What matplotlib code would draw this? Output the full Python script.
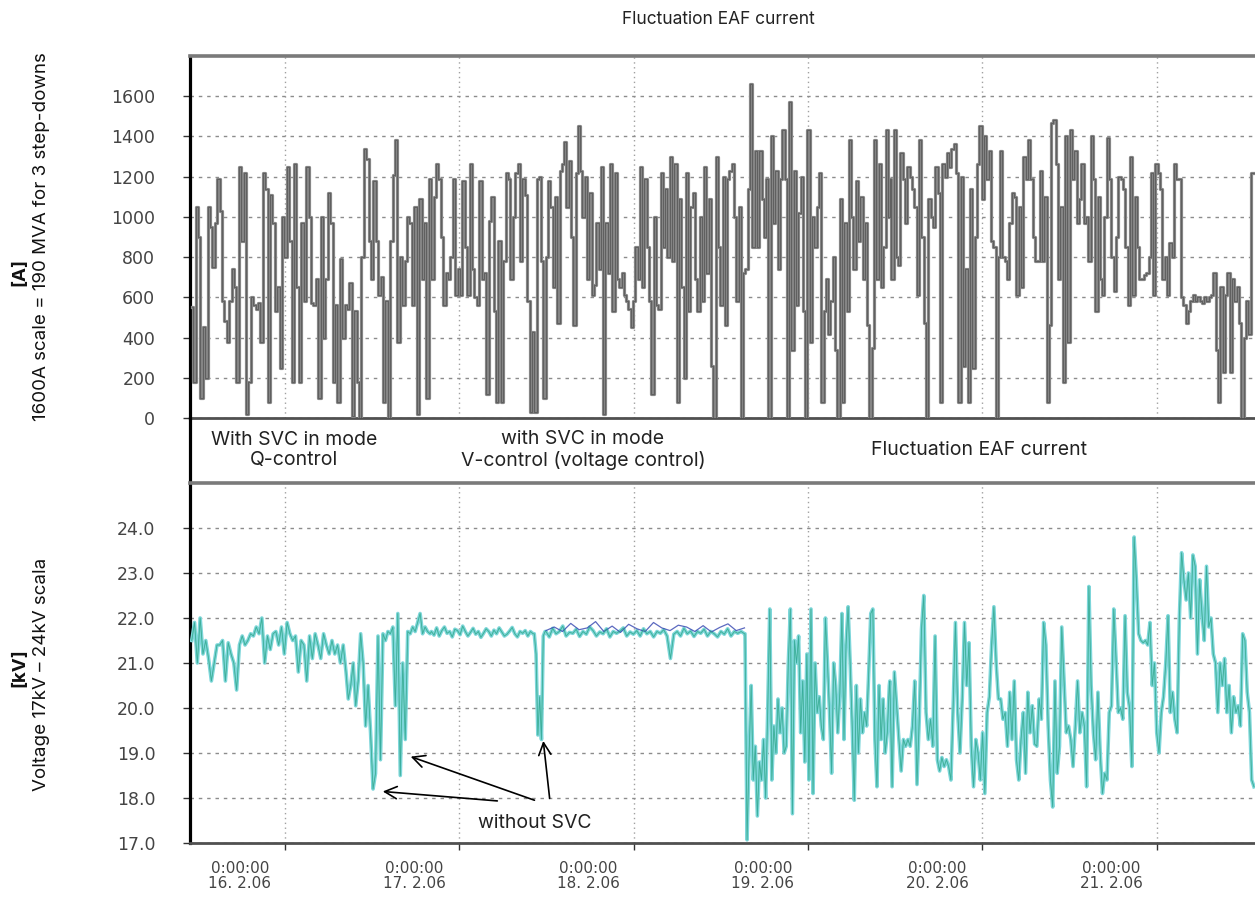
import numpy as np
import matplotlib
matplotlib.use("Agg")
import matplotlib.pyplot as plt
from matplotlib.transforms import ScaledTranslation

# ---------------- data ----------------
# time axis in days, 0 = 16.2.06 0:00:00
day_ticks = [0, 1, 2, 3, 4, 5]
day_labels = ["0:00:00\n16. 2.06", "0:00:00\n17. 2.06", "0:00:00\n18. 2.06",
              "0:00:00\n19. 2.06", "0:00:00\n20. 2.06", "0:00:00\n21. 2.06"]

current_ticks = [0, 200, 400, 600, 800, 1000, 1200, 1400, 1600]
voltage_ticks = [17.0, 18.0, 19.0, 20.0, 21.0, 22.0, 23.0, 24.0]

# EAF current [A], three consecutive recording stretches (start day, end day)
current_spans = [(-0.534, 1.452), (1.463, 3.465), (3.471, 5.559)]
current_a = [550, 180, 1050, 900, 100, 450, 200, 1050, 950, 750, 970, 1190, 1030, 580, 480, 380,
             580, 740, 650, 180, 1250, 880, 1220, 20, 180, 600, 560, 540, 570, 380, 1220, 1140,
             80, 1110, 970, 530, 650, 250, 1000, 800, 1250, 880, 180, 1265, 650, 180, 970, 580,
             1250, 1000, 570, 560, 690, 100, 1000, 400, 690, 1120, 970, 180, 560, 80, 790, 400,
             560, 540, 670, 10, 530, 180, 0, 800, 1340, 1290, 880, 690, 1180, 880, 610, 700, 80,
             580, 0, 880, 1210, 1380, 380, 800, 560, 780, 1000, 970, 560, 1050, 20, 1090, 690,
             970, 100, 1190, 690, 1100, 1265, 1190, 900, 560, 720, 690, 800, 1190, 610, 740, 610,
             1180, 850, 610, 1265, 740, 600, 560, 1180, 690, 720, 120, 980, 1100, 530, 80, 880,
             80, 780, 1220, 1190, 690, 1000, 1220, 1265, 780, 1190, 1110, 580, 30, 430, 30, 1190]
current_b = [1200, 780, 100, 800, 1180, 1050, 650, 1100, 470, 1230, 1265, 1370, 1050, 1280, 900,
             460, 1220, 1450, 1230, 1000, 1200, 690, 1120, 610, 660, 970, 740, 1250, 20, 970, 720,
             1265, 530, 1220, 690, 650, 720, 610, 580, 540, 450, 580, 850, 690, 1250, 650, 1190,
             850, 580, 120, 1000, 560, 540, 1220, 850, 1140, 800, 1300, 780, 1265, 80, 1090, 650,
             200, 1220, 530, 1050, 1120, 690, 530, 1000, 580, 1250, 720, 1090, 260, 0, 1300, 850,
             560, 1200, 460, 1190, 1230, 1265, 1000, 580, 1050, 0, 720, 740, 1140, 1660, 850,
             1330, 850, 1330, 1090, 900, 1190, 0, 1400, 970, 1230, 740, 1190, 1430, 1190, 0, 1570,
             340, 1230, 560, 1020, 1200, 530, 0, 1430, 380, 1000, 850, 1050, 1220, 80, 530, 690,
             420, 580, 800, 340, 0, 1090, 80, 970, 530, 1380, 1000, 740, 1180, 880, 1100, 690, 970,
             460, 0, 350, 1380, 690, 1265, 650, 850, 1430, 1000]
current_c = [1190, 690, 1430, 800, 760, 1320, 1190, 970, 1250, 1200, 1140, 1050, 610, 1380, 900,
             470, 0, 1090, 1000, 950, 1250, 1120, 80, 1265, 1200, 1320, 1250, 1340, 1360, 1220, 80,
             1200, 260, 740, 80, 1140, 250, 900, 1265, 1450, 1090, 1400, 1190, 1330, 880, 850, 0,
             800, 1330, 800, 780, 690, 970, 1120, 1100, 610, 1050, 650, 1300, 1190, 1380, 1190, 900,
             780, 780, 1230, 780, 1100, 80, 460, 1465, 1480, 1265, 690, 1050, 180, 1400, 380, 1430,
             1190, 1330, 970, 1090, 1265, 970, 1000, 780, 1400, 1190, 530, 1100, 690, 610, 1000,
             1390, 1190, 800, 630, 900, 1200, 1190, 1140, 850, 560, 1300, 610, 1100, 850, 690, 690,
             710, 720, 800, 1220, 610, 1265, 1220, 1140, 690, 800, 610, 870, 800, 1265, 1190, 1190,
             600, 560, 470, 530, 580, 610, 580, 600, 580, 570, 600, 580, 600, 610, 720, 340, 80,
             650, 230, 610, 720, 230, 690, 580, 650, 470, 0, 400, 580, 420, 1220, 1220]

# Voltage 17-24 kV, recording stretches (start day, end day)
voltage_spans = [(-0.535, 0.350), (0.363, 0.832), (0.840, 1.423), (1.430, 1.492),
                 (1.497, 2.636), (2.639, 3.467), (3.470, 5.559)]
voltage_1 = [21.5, 21.9, 21.0, 22.0, 21.2, 21.5, 21.1, 20.6, 21.0, 21.4, 21.4, 21.5, 20.6, 21.45,
             21.2, 21.0, 20.4, 21.4, 21.6, 21.4, 21.5, 21.65, 21.6, 21.8, 21.65, 22.0, 21.0, 21.6,
             21.3, 21.65, 21.7, 21.4, 21.8, 21.2, 21.9, 21.65, 21.5, 21.6, 20.8, 21.5, 21.4, 20.6,
             21.6, 21.1, 21.65, 21.4, 21.1, 21.65, 21.4, 21.2, 21.5, 21.2, 21.4, 21.0, 21.4, 20.8]
voltage_2 = [20.2, 20.5, 21.0, 20.05, 20.6, 21.65, 21.0, 19.6, 20.5, 19.45, 18.2, 18.55, 21.6,
             18.85, 21.65, 21.5, 21.7, 21.65, 21.8, 20.05, 22.1, 18.5, 21.0, 19.3, 21.7, 21.65,
             21.8, 21.7, 21.9, 22.1, 21.65, 21.8, 21.7, 21.65]
voltage_3 = [21.7, 21.62, 21.78, 21.6, 21.72, 21.8, 21.66, 21.7, 21.58, 21.75, 21.72, 21.63, 21.82,
             21.7, 21.6, 21.68, 21.77, 21.64, 21.7, 21.57, 21.66, 21.76, 21.7, 21.6, 21.73, 21.65,
             21.78, 21.69, 21.6, 21.64, 21.71, 21.79, 21.65, 21.58, 21.7, 21.66, 21.72, 21.6, 21.7, 21.65]
voltage_4 = [21.65, 21.2, 19.4, 20.25, 19.3, 21.6, 21.7]
voltage_5 = [21.7, 21.58, 21.77, 21.65, 21.7, 21.82, 21.6, 21.68, 21.66, 21.75, 21.59, 21.7, 21.64,
             21.8, 21.72, 21.6, 21.69, 21.65, 21.76, 21.58, 21.7, 21.66, 21.71, 21.78, 21.6, 21.69,
             21.64, 21.72, 21.6, 21.76, 21.65, 21.7, 21.58, 21.7, 21.66, 21.74, 21.6, 21.1, 21.64,
             21.7, 21.6, 21.77, 21.65, 21.71, 21.59, 21.7, 21.66, 21.75, 21.6, 21.7, 21.65, 21.58,
             21.7, 21.64, 21.76, 21.6, 21.7, 21.66, 21.7, 21.65]
voltage_6 = [21.65, 17.07, 19.0, 20.5, 18.4, 19.15, 17.6, 18.8, 18.4, 19.3, 18.0, 19.9, 22.2,
             18.4, 19.6, 19.0, 20.2, 19.45, 20.0, 19.0, 19.15, 21.0, 22.2, 17.65, 21.5, 21.0, 21.6,
             19.45, 20.6, 18.8, 21.2, 18.4, 22.2, 18.1, 21.0, 19.9, 20.25, 19.6, 19.3, 22.0, 21.0,
             19.9, 18.55, 21.0, 20.5, 19.45, 20.35, 22.1, 19.3, 21.4, 22.25, 21.0, 19.6, 17.95,
             20.5, 19.0, 20.2, 19.45, 19.9, 19.6, 20.8, 22.1, 22.2, 19.3, 18.25, 20.5, 19.3, 20.2,
             19.0, 19.45, 20.5]
voltage_7 = [20.6, 18.25, 20.8, 20.05, 19.3, 18.6, 19.3, 19.15, 19.3, 19.15, 19.6, 20.6, 18.3,
             19.75, 21.75, 22.5, 19.9, 19.3, 19.75, 19.15, 21.6, 18.85, 18.6, 18.9, 18.7, 18.85,
             18.7, 18.4, 20.05, 21.9, 19.9, 19.0, 20.2, 21.9, 20.5, 21.45, 19.15, 18.25, 19.3, 19.0,
             18.4, 19.45, 18.1, 19.9, 20.25, 21.4, 22.25, 21.0, 20.2, 20.2, 19.75, 19.9, 19.15,
             20.35, 19.3, 20.6, 18.85, 18.4, 19.3, 19.9, 18.55, 20.35, 19.45, 20.05, 19.2, 19.15,
             20.2, 19.75, 21.9, 21.4, 19.6, 18.4, 17.8, 20.6, 18.55, 19.15, 21.8, 20.6, 19.45, 19.6,
             19.3, 18.7, 19.6, 20.6, 19.45, 19.9, 19.6, 18.25, 22.7, 20.5, 19.45, 18.85, 20.35,
             19.0, 18.1, 18.55, 18.4, 19.9, 20.05, 22.2, 21.1, 19.9, 20.0, 19.75, 22.05, 20.35, 20.0,
             18.7, 23.8, 22.85, 21.65, 21.5, 21.45, 21.5, 21.4, 21.9, 20.5, 21.0, 19.45, 19.0, 19.9,
             20.25, 21.0, 22.05, 19.9, 20.35, 19.75, 19.45, 22.0, 23.45, 22.85, 22.4, 23.0, 22.0,
             23.4, 23.15, 21.2, 22.85, 22.1, 21.5, 23.15, 21.8, 22.0, 21.2, 21.0, 19.9, 21.0, 20.5,
             21.1, 19.9, 20.5, 19.45, 20.25, 19.9, 20.05, 19.6, 21.65, 21.5, 20.35, 19.9, 18.4, 18.25]
# second phase (blue) visible above the flat V-control stretch
voltage_blue_span = (1.497, 2.636)
voltage_blue = [21.72, 21.8, 21.7, 21.88, 21.74, 21.78, 21.92, 21.7, 21.82, 21.68, 21.86, 21.76,
                21.7, 21.9, 21.78, 21.72, 21.84, 21.8, 21.7, 21.83, 21.69, 21.79, 21.87, 21.72, 21.78]

mode_texts = ["With SVC in mode\nQ-control", "with SVC in mode\nV-control (voltage control)",
              "Fluctuation EAF current"]


def build(spans, series):
    ts, vs = [], []
    for (a, b), vals in zip(spans, series):
        ts.append(np.linspace(a, b, len(vals)))
        vs.append(np.asarray(vals, dtype=float))
    return np.concatenate(ts), np.concatenate(vs)


t_cur, i_cur = build(current_spans, [current_a, current_b, current_c])
t_vol, u_vol = build(voltage_spans, [voltage_1, voltage_2, voltage_3, voltage_4,
                                     voltage_5, voltage_6, voltage_7])
t_blue = np.linspace(voltage_blue_span[0], voltage_blue_span[1], len(voltage_blue))

# ---------------- figure ----------------
W, H = 1255, 898
fig = plt.figure(figsize=(W / 100, H / 100), dpi=100)
fig.patch.set_facecolor("white")


def fx(px):
    return px / W


def fy(py):
    return 1 - py / H


x_left, x_right = -0.545, 5.582
ax_w = (1258 - 190) / W
ax1 = fig.add_axes([fx(190), fy(418), ax_w, (418 - 56) / H])
band = fig.add_axes([fx(190), fy(483), ax_w, (483 - 418) / H])
ax2 = fig.add_axes([fx(190), fy(843), ax_w, (843 - 483) / H])

ytick_font = dict(family="DejaVu Sans", size=12.5, color="#444444")
xtick_font = dict(family="DejaVu Sans", size=11, color="#444444")
txt_font = "Inter"

for ax in (ax1, ax2):
    ax.set_xlim(x_left, x_right)
    ax.set_xticks(day_ticks)
    ax.spines["left"].set_color("black")
    ax.spines["left"].set_linewidth(2.3)
    ax.spines["top"].set_color("#7a7a7a")
    ax.spines["top"].set_linewidth(2.6)
    ax.spines["bottom"].set_color("#505050")
    ax.spines["bottom"].set_linewidth(2.0)
    ax.spines["right"].set_visible(False)
    ax.grid(axis="y", color="#8c8c8c", linestyle=(0, (2.5, 3.5)), linewidth=1.0)
    ax.grid(axis="x", color="#a0a0a0", linestyle=(0, (1, 2.5)), linewidth=1.0)
    ax.set_axisbelow(True)
    ax.tick_params(axis="y", direction="out", length=5, width=1.0, color="#333333",
                   pad=20)

# top: current
ax1.set_ylim(0, 1800)
ax1.set_yticks(current_ticks)
ax1.set_yticklabels([str(v) for v in current_ticks], **ytick_font)
ax1.tick_params(axis="x", length=0, labelbottom=False)
ax1.plot(t_cur, i_cur, color="#858585", lw=2.3, drawstyle="steps-mid", zorder=3)
ax1.plot(t_cur, i_cur, color="#111111", lw=0.5, drawstyle="steps-mid", zorder=4, alpha=0.45)

# bottom: voltage
ax2.set_ylim(17.0, 25.0)
ax2.set_yticks(voltage_ticks)
ax2.set_yticklabels([f"{v:.1f}" for v in voltage_ticks], **ytick_font)
ax2.set_xticklabels(day_labels, **xtick_font, linespacing=1.0)
ax2.tick_params(axis="x", direction="out", length=5, width=1.0, color="#333333", pad=8)
offset = ScaledTranslation(-45 / 100, 0, fig.dpi_scale_trans)
for lab in ax2.get_xticklabels():
    lab.set_transform(lab.get_transform() + offset)
ax2.plot(t_vol, u_vol, color="#7dd6da", lw=2.6, zorder=3)
ax2.plot(t_blue, voltage_blue, color="#3344b0", lw=0.9, zorder=4, alpha=0.8)
ax2.plot(t_vol, u_vol, color="#3aae55", lw=0.7, zorder=5, alpha=0.45)
ax2.plot(t_vol, u_vol, color="#1a9aa0", lw=0.5, zorder=6, alpha=0.55)

# middle band
band.set_xlim(x_left, x_right)
band.set_ylim(0, 1)
band.set_xticks([])
band.set_yticks([])
for s in ("top", "bottom", "right"):
    band.spines[s].set_visible(False)
band.spines["left"].set_color("black")
band.spines["left"].set_linewidth(2.3)
band.patch.set_alpha(0)

fig.text(fx(294), fy(450), mode_texts[0], ha="center", va="center", family=txt_font,
         fontsize=14, color="#222222", linespacing=1.2)
fig.text(fx(583), fy(450), mode_texts[1], ha="center", va="center", family=txt_font,
         fontsize=14, color="#222222", linespacing=1.2)
fig.text(fx(979), fy(450), mode_texts[2], ha="center", va="center", family=txt_font,
         fontsize=14, color="#222222")

# title
fig.text(fx(718), fy(20), "Fluctuation EAF current", ha="center", va="center",
         family=txt_font, fontsize=12.5, color="#222222")

# y labels
fig.text(fx(20), fy(272), "[A]", rotation=90, ha="center", va="center", family=txt_font,
         fontsize=13.5, weight="bold", color="#111111")
fig.text(fx(42), fy(237), "1600A scale = 190 MVA for 3 step-downs", rotation=90,
         ha="center", va="center", family=txt_font, fontsize=13.5, color="#111111")
fig.text(fx(20), fy(668), "[kV]", rotation=90, ha="center", va="center", family=txt_font,
         fontsize=13.5, weight="bold", color="#111111")
fig.text(fx(42), fy(674), "Voltage 17kV \u2013 24kV scala", rotation=90,
         ha="center", va="center", family=txt_font, fontsize=13.5, color="#111111")

# "without SVC" annotation
arrow_kw = dict(arrowstyle="->", color="black", lw=1.2, mutation_scale=22)
ax2.annotate("", xy=(0.545, 18.15), xytext=(1.234, 17.93), arrowprops=arrow_kw)
ax2.annotate("", xy=(0.706, 18.94), xytext=(1.446, 17.93), arrowprops=arrow_kw)
ax2.annotate("", xy=(1.480, 19.33), xytext=(1.520, 17.93), arrowprops=arrow_kw)
ax2.text(1.434, 17.45, "without SVC", ha="center", va="center", family=txt_font,
         fontsize=14, color="#222222")

fig.savefig("out.png", dpi=100, facecolor="white")
